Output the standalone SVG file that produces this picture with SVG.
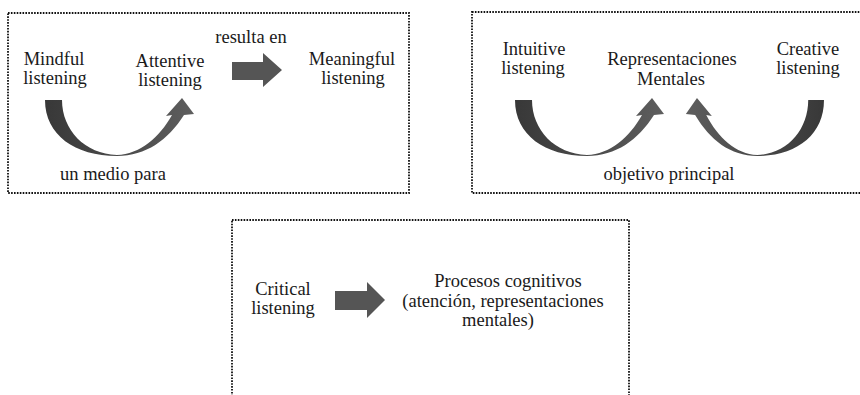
<svg xmlns="http://www.w3.org/2000/svg" width="860" height="395" viewBox="0 0 860 395">
<style>
.box{fill:none;stroke:#111;stroke-width:1.8;stroke-dasharray:1.6 1.3}
.t{font-family:'Liberation Serif','Times New Roman',serif;font-size:18.5px;fill:#1a1a1a;text-anchor:middle}
.blk{fill:#555}
.curve{fill:url(#g1)}
</style>
<defs>
<linearGradient id="g1" x1="0" y1="0" x2="1" y2="0">
<stop offset="0" stop-color="#383838"/>
<stop offset="0.5" stop-color="#4a4a4a"/>
<stop offset="1" stop-color="#5e5e5e"/>
</linearGradient>
<path id="carrow" d="M45,100 C45,135 75,156 117,156 C146,156 168,140 184,115 L194,114 L182,98 L166,116 L172,115 C159,138 140,154 117,155 C85,154 62,130 62,100 Z"/>
</defs>
<g id="box1">
<rect class="box" x="8" y="13" width="401" height="180"/>
</g>
<g id="box2">
<rect class="box" x="472" y="12" width="395" height="181"/>
</g>
<g id="box3">
<rect class="box" x="232" y="220" width="397" height="190"/>
</g>
<g class="t">
<g id="mindful"><text x="54" y="65">Mindful</text><text x="55" y="84">listening</text></g>
<g id="attentive"><text x="170" y="67">Attentive</text><text x="170" y="86">listening</text></g>
<g id="meaningful"><text x="352" y="65">Meaningful</text><text x="353" y="84">listening</text></g>
<g id="intuitive"><text x="534" y="55">Intuitive</text><text x="533" y="74">listening</text></g>
<g id="representaciones"><text x="672" y="65">Representaciones</text><text x="671" y="85">Mentales</text></g>
<g id="creative"><text x="808" y="55">Creative</text><text x="808" y="74">listening</text></g>
<g id="critical"><text x="283" y="295">Critical</text><text x="283" y="314">listening</text></g>
<g id="procesos"><text x="508" y="287">Procesos cognitivos</text><text x="503" y="307">(atención, representaciones</text><text x="498" y="326">mentales)</text></g>
</g>
<g id="connectors">
<use href="#carrow" class="curve"/>
<use href="#carrow" class="curve" transform="translate(470,0)"/>
<use href="#carrow" class="curve" transform="matrix(-0.927,0,0,1,865.7,0)"/>
<path class="blk" d="M232,62 L263,62 L263,53 L282,70 L263,87 L263,80 L232,80 Z"/>
<path class="blk" d="M335,291 L367,291 L367,282 L385,300 L367,318 L367,310 L335,310 Z"/>
<g class="t">
<text x="113" y="180">un medio para</text>
<text x="251" y="43">resulta en</text>
<text x="669" y="180">objetivo principal</text>
</g>
</g>
</svg>
